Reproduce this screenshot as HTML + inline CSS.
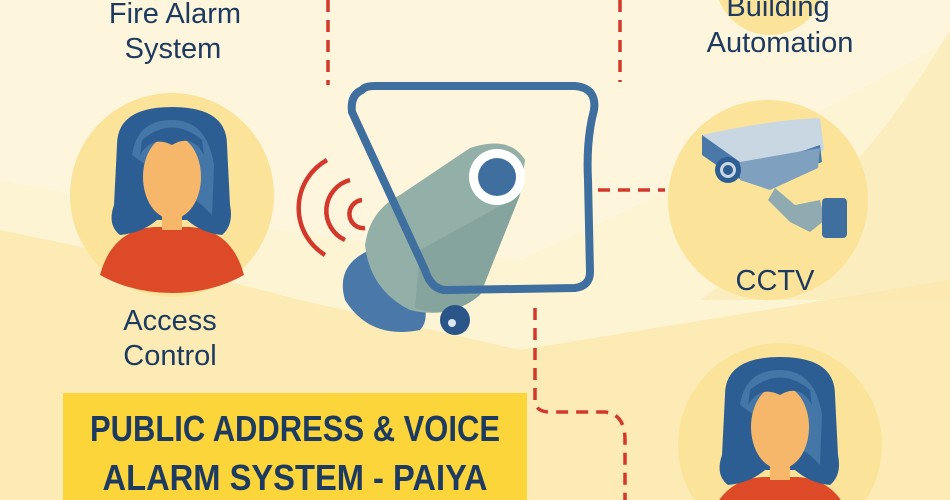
<!DOCTYPE html>
<html><head><meta charset="utf-8"><style>
html,body{margin:0;padding:0;width:950px;height:500px;overflow:hidden;}
body{background:#fdf3d2;}
svg{display:block;}
text{font-family:"Liberation Sans",sans-serif;fill:#1d3a60;}
.t{font-size:29px;text-anchor:middle;}
.b{font-weight:bold;font-size:36px;text-anchor:middle;}
</style></head><body>
<svg width="950" height="500" viewBox="0 0 950 500" xmlns="http://www.w3.org/2000/svg">
<defs>
<clipPath id="c"><rect width="950" height="500"/></clipPath>
<g id="person">
<circle cx="0" cy="0" r="102" fill="#fbe49a"/>
<path d="M-72,80 Q-60,35 -18,32 L18,32 Q60,35 72,80 Q40,98 0,98 Q-40,98 -72,80Z" fill="#dc4a28"/>
<path d="M-55,-50 Q-55,-88 0,-88 Q55,-88 55,-50 L58,10 Q62,30 50,40 Q30,38 15,25 L-15,25 Q-30,38 -52,40 Q-65,30 -58,10Z" fill="#2d5e93"/>
<path d="M-40,-40 Q-35,-75 0,-75 Q35,-75 42,-30 L40,20 L30,10Z" fill="#4a7cad" opacity="0.8"/>
<rect x="-10" y="10" width="20" height="25" fill="#f7b76a"/>
<ellipse cx="0" cy="-18" rx="29" ry="42" fill="#f7b76a"/>
<path d="M-32,-40 Q-20,-60 0,-50 Q20,-62 32,-40 L30,-55 Q0,-80 -30,-55Z" fill="#2d5e93"/>
</g>
</defs>
<g clip-path="url(#c)">
<rect width="950" height="500" fill="#fdf4d3"/>
<path d="M0,230 Q150,260 300,300 L520,350 L950,280 L950,500 L0,500Z" fill="#fcebb5"/>
<path d="M0,0 L950,0 L950,40 Q700,180 520,260 Q300,240 0,180Z" fill="#fef7e0" opacity="0.7"/>
<path d="M950,30 Q850,200 700,300 L950,300Z" fill="#fbe8b0" opacity="0.6"/>
<g stroke="#d2382b" stroke-width="3.5" fill="none" stroke-dasharray="12,8">
<line x1="328" y1="0" x2="328" y2="85"/>
<line x1="620" y1="0" x2="620" y2="82"/>
<line x1="598" y1="190" x2="665" y2="190"/>
<path d="M535,308 L535,400 Q535,412 550,412 L605,412 Q625,414 625,440 L625,500"/>
</g>
<circle cx="770" cy="-20" r="55" fill="#fbe49a"/>
<text class="t" x="175" y="23">Fire Alarm</text>
<text class="t" x="173" y="58">System</text>
<text class="t" x="778" y="16">Building</text>
<text class="t" x="780" y="52">Automation</text>
<use href="#person" x="172" y="195"/>
<text class="t" x="170" y="330">Access</text>
<text class="t" x="170" y="365">Control</text>
<circle cx="768" cy="200" r="100" fill="#fbe49a"/>
<path d="M775,188 L795,205 L820,200 L825,220 L810,232 L790,222 L768,200Z" fill="#8faab0"/>
<rect x="822" y="198" width="25" height="40" rx="4" fill="#3f6f9e"/>
<path d="M702,135 Q770,120 820,118 L824,150 L770,180 L735,175 L702,155Z" fill="#c8d7e2"/>
<path d="M702,135 L702,155 L735,178 L770,182 L822,162 L820,145 Q780,160 740,162Z" fill="#4a78a8"/>
<path d="M740,162 L820,148 L818,168 L770,190 L740,180Z" fill="#7fa0bf"/>
<circle cx="728" cy="170" r="13" fill="#2d5e93"/>
<circle cx="728" cy="170" r="8" fill="#c8d7e2"/>
<circle cx="728" cy="170" r="5" fill="#2d5e93"/>
<text class="t" x="775" y="290">CCTV</text>
<use href="#person" x="780" y="445"/>
<rect x="63" y="393" width="464" height="107" fill="#fcd53a"/>
<text class="b" x="295" y="441" textLength="410" lengthAdjust="spacingAndGlyphs">PUBLIC ADDRESS &amp; VOICE</text>
<text class="b" x="295" y="490" textLength="385" lengthAdjust="spacingAndGlyphs">ALARM SYSTEM - PAIYA</text>
<g fill="none" stroke="#d2382b" stroke-width="4.5">
<path d="M362,200 A14,14 0 0 0 365,228"/>
<path d="M350,180 A32,32 0 0 0 345,240"/>
<path d="M327,160 A55,55 0 0 0 325,255"/>
</g>
<path d="M345,300 Q335,265 370,250 L390,245 Q440,310 420,330 Q370,340 345,300Z" fill="#4a78a8"/>
<path d="M365,245 Q370,210 400,195 L470,148 Q510,135 525,160 L520,195 L480,295 Q450,320 410,310 Q370,290 365,245Z" fill="#93b0a8"/>
<path d="M420,250 L520,195 L480,295 Q450,320 415,308Z" fill="#7f9f98" opacity="0.7"/>
<circle cx="497" cy="177" r="28" fill="#ffffff"/>
<circle cx="497" cy="177" r="19" fill="#3f6f9e"/>
<circle cx="455" cy="320" r="15" fill="#2a5589"/>
<circle cx="452" cy="323" r="4" fill="#dde6ee"/>
<path d="M362,90 Q350,95 352,112 L425,270 Q432,292 450,290 L575,288 Q590,286 590,272 L588,180 Q586,140 594,110 Q597,88 575,86 L375,86 Q365,86 362,90Z" fill="none" stroke="#3f6f9e" stroke-width="8" stroke-linejoin="round"/>
</g>
</svg>
</body></html>
